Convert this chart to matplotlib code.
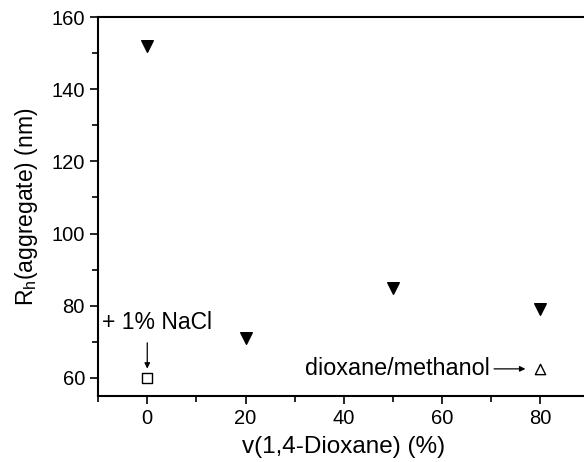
import matplotlib.pyplot as plt
from matplotlib.ticker import MultipleLocator

plt.rcParams['font.family'] = ['Liberation Sans', 'DejaVu Sans']
plt.rcParams['mathtext.fontset'] = 'custom'
plt.rcParams['mathtext.rm'] = 'Liberation Sans'

# aggregates in water/dioxane
dioxane = [0, 20, 50, 80]
rh = [152, 71, 85, 79]
# with 1% NaCl
nacl_x = [0]
nacl_rh = [60]
# dioxane/methanol
meoh_x = [80]
meoh_rh = [62.5]

fig = plt.figure(figsize=(5.84, 4.62), dpi=100)
ax = fig.add_axes([0.168, 0.143, 0.8416, 0.820])

ax.scatter(dioxane, rh, marker='v', s=70, color='black', zorder=3)
ax.scatter(nacl_x, nacl_rh, marker='s', s=55, facecolor='white', edgecolor='black', linewidth=1, zorder=3)
ax.scatter(meoh_x, meoh_rh, marker='^', s=55, facecolor='white', edgecolor='black', linewidth=1, zorder=3)

ax.annotate('', xy=(0, 61.8), xytext=(0, 70.5),
            arrowprops=dict(arrowstyle='-|>', color='black', lw=0.9, mutation_scale=8))
ax.text(-9.3, 73.5, '+ 1% NaCl', fontsize=16.5)
ax.annotate('', xy=(77.5, 62.5), xytext=(70, 62.5),
            arrowprops=dict(arrowstyle='-|>', color='black', lw=0.9, mutation_scale=8))
ax.text(69.8, 62.5, 'dioxane/methanol', fontsize=16.8, ha='right', va='center')

ax.set_xlim(-10, 90)
ax.set_ylim(55, 160)
ax.xaxis.set_major_locator(MultipleLocator(20))
ax.xaxis.set_minor_locator(MultipleLocator(10))
ax.yaxis.set_major_locator(MultipleLocator(20))
ax.yaxis.set_minor_locator(MultipleLocator(10))
ax.set_xticks([0, 20, 40, 60, 80])
ax.tick_params(which='major', direction='out', length=6, width=1.2, labelsize=14.5)
ax.tick_params(which='minor', direction='out', length=4, width=1.2)
ax.tick_params(top=False, right=False)
for s in ax.spines.values():
    s.set_linewidth(1.5)

ax.set_xlabel('v(1,4-Dioxane) (%)', fontsize=17.5, labelpad=6)
ax.set_ylabel(r'R$_\mathregular{h}$(aggregate) (nm)', fontsize=16.5, labelpad=8)

fig.savefig('out.png', dpi=100)
